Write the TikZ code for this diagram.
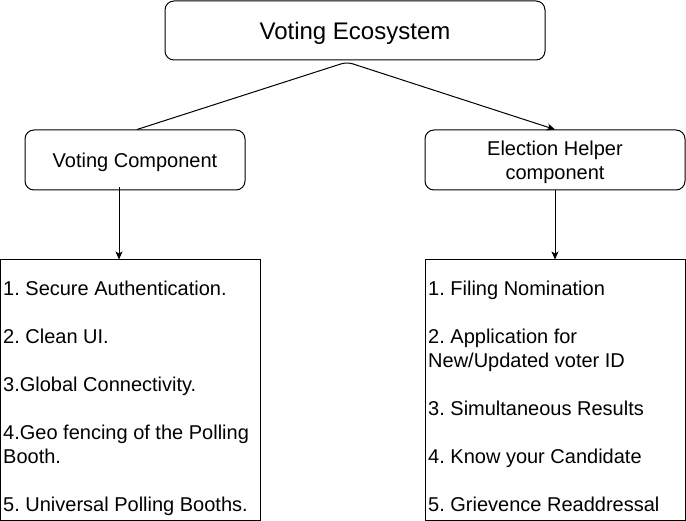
\documentclass[tikz,border=0pt]{standalone}
\usepackage{fontspec}
\setmainfont{Liberation Sans}
\usetikzlibrary{arrows.meta}
\begin{document}
\frenchspacing
\begin{tikzpicture}[x=1pt,y=-1pt,
  rbox/.style={draw, line width=1pt, rounded corners=9pt, align=center, inner sep=0pt, text depth=0pt},
  sbox/.style={draw, line width=1pt, inner sep=0pt},
  txt/.style={font=\fontsize{20}{24}\selectfont},
  listtxt/.style={txt, align=left, anchor=north west, inner sep=0pt},
  arr/.style={line width=1pt, -{Stealth[length=8pt,width=7pt,inset=2pt]}}
]
\useasboundingbox[fill=white] (0,0) rectangle (686,521);
% boxes
\node[rbox, minimum width=380pt, minimum height=59pt, font=\fontsize{24}{28.8}\selectfont] (VE) at (355,30.5) {Voting Ecosystem};
\node[rbox, txt, minimum width=220pt, minimum height=60pt] (VC) at (135,160) {Voting Component};
\node[rbox, txt, minimum width=260pt, minimum height=60pt] (EH) at (555,160) {Election Helper\\component};
\node[sbox, minimum width=260pt, minimum height=260pt] (LL) at (130.5,390) {};
\node[sbox, minimum width=260pt, minimum height=260pt] (RL) at (555.5,390) {};
% list texts
\node[listtxt] (LT) at (3,281) {1. Secure Authentication.\\[24pt]2. Clean UI.\\[24pt]3.Global Connectivity.\\[24pt]4.Geo fencing of the Polling\\Booth.\\[24pt]5. Universal Polling Booths.};
\node[listtxt] (RT) at (428,281.2) {1. Filing Nomination\\[24pt]2. Application for\\New/Updated voter ID\\[24pt]3. Simultaneous Results\\[24pt]4. Know your Candidate\\[24pt]5. Grievence Readdressal};
% connectors
\coordinate (apex) at (347,62);
\draw[arr, rounded corners=6pt] ([xshift=2pt]VC.north) -- (apex) -- (EH.north);
\coordinate (lstart) at ([xshift=-16pt,yshift=3pt]VC.south);
\draw[arr] (lstart) -- (lstart |- LL.north);
\draw[arr] (EH.south) -- (EH.south |- RL.north);
\end{tikzpicture}
\end{document}
